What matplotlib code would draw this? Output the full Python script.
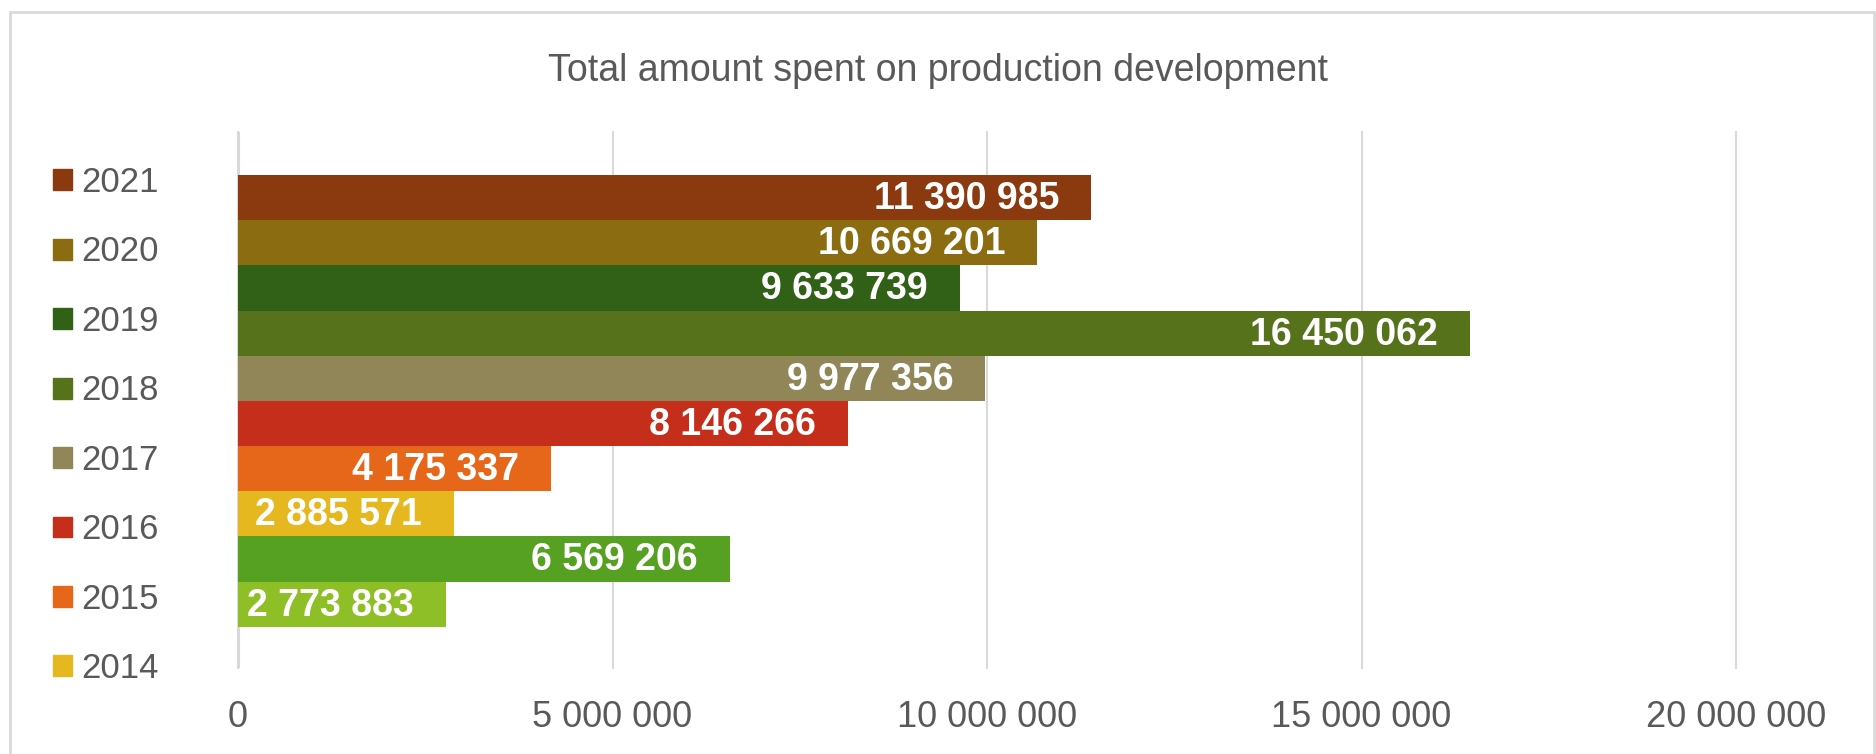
import matplotlib
matplotlib.use("Agg")
import matplotlib.pyplot as plt
from matplotlib.patches import Patch, Rectangle
from matplotlib.ticker import FuncFormatter

# bars listed bottom to top
years = ["2012", "2013", "2014", "2015", "2016", "2017", "2018", "2019", "2020", "2021"]
amounts = [2773883, 6569206, 2885571, 4175337, 8146266, 9977356,
           16450062, 9633739, 10669201, 11390985]
colors = ["#8FBF26", "#56A022", "#E5B81F", "#E6661A", "#C42E1B",
          "#918657", "#56731B", "#316017", "#8B6C11", "#8B3A0F"]
# the legend box in the original is cut off after 2014
legend_years = ["2021", "2020", "2019", "2018", "2017", "2016", "2015", "2014"]
x_ticks = [0, 5000000, 10000000, 15000000, 20000000]
title = "Total amount spent on production development"


def spaced(v, pos=None):
    return f"{int(v):,}".replace(",", " ")


plt.rcParams["font.family"] = ["Liberation Sans", "DejaVu Sans"]

W, H = 1876, 754
fig = plt.figure(figsize=(W / 100, H / 100), dpi=100)
ax = fig.add_axes([238 / W, 86 / H, 1498 / W, 536 / H])

bars = ax.barh(range(len(years)), amounts, height=1.0, color=colors, zorder=3)
for b, v in zip(bars, amounts):
    ax.annotate(spaced(v), (b.get_width(), b.get_y() + b.get_height() / 2),
                xytext=(-23, -1), textcoords="offset points",
                ha="right", va="center", color="white",
                fontsize=27, fontweight="bold", zorder=4)

ax.set_xlim(0, 20000000)
ax.set_ylim(-1.41, 10.45)
ax.set_xticks(x_ticks)
ax.xaxis.set_major_formatter(FuncFormatter(spaced))
ax.tick_params(axis="x", length=0, pad=23, labelsize=26, labelcolor="#595959")
ax.set_yticks([])
ax.grid(axis="x", color="#D9D9D9", lw=1.5, zorder=0)
for gl in ax.get_xgridlines():
    gl.set_clip_on(False)
for s in ax.spines.values():
    s.set_visible(False)
ax.axvline(0, color="#D9D9D9", lw=2.2, zorder=2)

fig.text(0.5, 1 - 71 / H, title, ha="center", va="center",
         fontsize=27, color="#595959")

color_of = dict(zip(years, colors))
handles = [Patch(color=color_of[y], label=y) for y in legend_years]
fig.legend(handles=handles, loc="upper left",
           bbox_to_anchor=(53 / W, 1 - 166 / H), frameon=False,
           fontsize=25, handlelength=0.55, handleheight=0.55,
           handletextpad=0.26, labelspacing=1.05, borderpad=0,
           borderaxespad=0, labelcolor="#595959")

# chart frame (bottom edge is outside the image in the original)
fig.add_artist(Rectangle((10 / W, -0.05), 1864 / W, (H - 12) / H + 0.05,
                         transform=fig.transFigure, fill=False,
                         edgecolor="#D9D9D9", lw=2))

fig.savefig("out.png", dpi=100)
